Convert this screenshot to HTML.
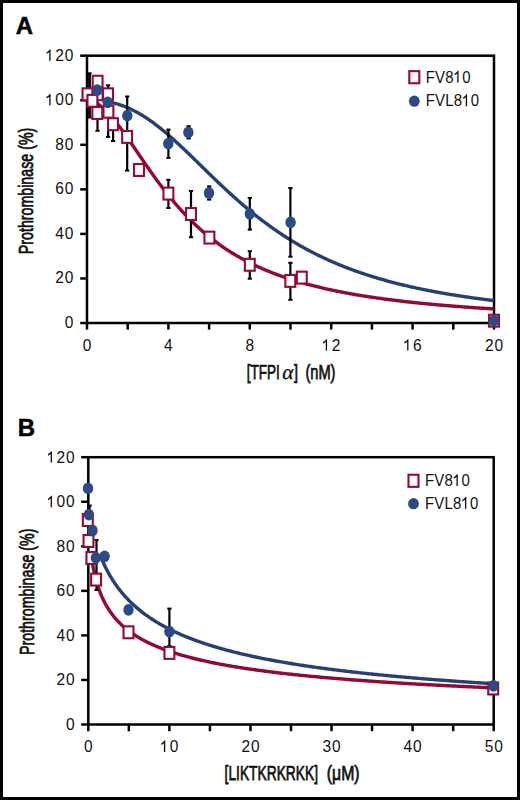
<!DOCTYPE html>
<html><head><meta charset="utf-8"><style>
html,body{margin:0;padding:0;background:#fff;}
svg{display:block;}
text{font-family:"Liberation Sans",sans-serif;fill:#111;}
.tk{font-size:15.5px;letter-spacing:0.9px;}
.lg{font-size:15px;letter-spacing:0.2px;}
.pl{font-size:24px;font-weight:bold;fill:#000;stroke:#000;stroke-width:0.45px;}
.ax{font-size:20px;stroke:#111;stroke-width:0.75px;}
</style></head><body>
<svg width="520" height="800" viewBox="0 0 520 800">
<rect x="0" y="0" width="520" height="800" fill="#fff"/>
<rect x="1.5" y="1.5" width="517" height="797" fill="none" stroke="#000" stroke-width="3"/>
<text x="15.8" y="33.9" class="pl">A</text>
<text x="17.8" y="435.7" class="pl">B</text>
<text transform="translate(33.2,254.2) rotate(-90)" class="ax" textLength="126.5" lengthAdjust="spacingAndGlyphs">Prothrombinase (%)</text>
<text transform="translate(33.9,655) rotate(-90)" class="ax" textLength="126.5" lengthAdjust="spacingAndGlyphs">Prothrombinase (%)</text>
<text x="246.8" y="378.8" class="ax" textLength="33" lengthAdjust="spacingAndGlyphs">[TFPI</text>
<text transform="translate(281.6,378.8) skewX(-9)" style="font-family:'Liberation Serif',serif;font-size:21px;stroke:#111;stroke-width:0.3px;fill:#111">&#945;</text>
<text transform="translate(293.9,378.8) scale(0.72,1)" class="ax">]</text>
<text x="305.4" y="378.8" class="ax" textLength="30.1" lengthAdjust="spacingAndGlyphs">(nM)</text>
<text x="224.6" y="780.2" class="ax" textLength="93.4" lengthAdjust="spacingAndGlyphs">[LIKTKRKRKK]</text>
<text x="326.8" y="780.2" class="ax" textLength="32.8" lengthAdjust="spacingAndGlyphs">(&#956;M)</text>
<rect x="87" y="55.7" width="407" height="267.3" fill="none" stroke="#000" stroke-width="2.5"/>
<line x1="80.2" y1="323" x2="87" y2="323" stroke="#000" stroke-width="2.5"/>
<line x1="80.2" y1="278.45" x2="87" y2="278.45" stroke="#000" stroke-width="2.5"/>
<line x1="80.2" y1="233.9" x2="87" y2="233.9" stroke="#000" stroke-width="2.5"/>
<line x1="80.2" y1="189.35" x2="87" y2="189.35" stroke="#000" stroke-width="2.5"/>
<line x1="80.2" y1="144.8" x2="87" y2="144.8" stroke="#000" stroke-width="2.5"/>
<line x1="80.2" y1="100.25" x2="87" y2="100.25" stroke="#000" stroke-width="2.5"/>
<line x1="80.2" y1="55.7" x2="87" y2="55.7" stroke="#000" stroke-width="2.5"/>
<line x1="87" y1="323" x2="87" y2="329.6" stroke="#000" stroke-width="2.5"/>
<line x1="127.7" y1="323" x2="127.7" y2="329.6" stroke="#000" stroke-width="2.5"/>
<line x1="168.4" y1="323" x2="168.4" y2="329.6" stroke="#000" stroke-width="2.5"/>
<line x1="209.1" y1="323" x2="209.1" y2="329.6" stroke="#000" stroke-width="2.5"/>
<line x1="249.8" y1="323" x2="249.8" y2="329.6" stroke="#000" stroke-width="2.5"/>
<line x1="290.5" y1="323" x2="290.5" y2="329.6" stroke="#000" stroke-width="2.5"/>
<line x1="331.2" y1="323" x2="331.2" y2="329.6" stroke="#000" stroke-width="2.5"/>
<line x1="371.9" y1="323" x2="371.9" y2="329.6" stroke="#000" stroke-width="2.5"/>
<line x1="412.6" y1="323" x2="412.6" y2="329.6" stroke="#000" stroke-width="2.5"/>
<line x1="453.3" y1="323" x2="453.3" y2="329.6" stroke="#000" stroke-width="2.5"/>
<line x1="494" y1="323" x2="494" y2="329.6" stroke="#000" stroke-width="2.5"/>
<text id="t0" transform="translate(74.2,328) scale(1,1.06)" text-anchor="end" class="tk">0</text>
<text id="t1" transform="translate(74.2,283.45) scale(1,1.06)" text-anchor="end" class="tk">20</text>
<text id="t2" transform="translate(74.2,238.9) scale(1,1.06)" text-anchor="end" class="tk">40</text>
<text id="t3" transform="translate(74.2,194.35) scale(1,1.06)" text-anchor="end" class="tk">60</text>
<text id="t4" transform="translate(74.2,149.8) scale(1,1.06)" text-anchor="end" class="tk">80</text>
<text id="t5" transform="translate(74.2,105.25) scale(1,1.06)" text-anchor="end" class="tk"> 00</text>
<path transform="translate(74.2,105.25) scale(1,1.06) translate(-28.57,0) scale(0.007568,-0.007568)" d="M640,0L490,0L490,1098Q425,1038 319,979Q213,920 129,890L129,1057Q280,1124 393,1221Q506,1318 553,1409L640,1409Z" fill="#000" stroke="#000" stroke-width="15.9"/>
<text id="t6" transform="translate(74.2,60.7) scale(1,1.06)" text-anchor="end" class="tk"> 20</text>
<path transform="translate(74.2,60.7) scale(1,1.06) translate(-28.57,0) scale(0.007568,-0.007568)" d="M640,0L490,0L490,1098Q425,1038 319,979Q213,920 129,890L129,1057Q280,1124 393,1221Q506,1318 553,1409L640,1409Z" fill="#000" stroke="#000" stroke-width="15.9"/>
<text id="t7" transform="translate(87.45,350.5) scale(1,1.06)" text-anchor="middle" class="tk">0</text>
<text id="t8" transform="translate(168.85,350.5) scale(1,1.06)" text-anchor="middle" class="tk">4</text>
<text id="t9" transform="translate(250.25,350.5) scale(1,1.06)" text-anchor="middle" class="tk">8</text>
<text id="t10" transform="translate(331.65,350.5) scale(1,1.06)" text-anchor="middle" class="tk"> 2</text>
<path transform="translate(331.65,350.5) scale(1,1.06) translate(-9.52,0) scale(0.007568,-0.007568)" d="M640,0L490,0L490,1098Q425,1038 319,979Q213,920 129,890L129,1057Q280,1124 393,1221Q506,1318 553,1409L640,1409Z" fill="#000" stroke="#000" stroke-width="15.9"/>
<text id="t11" transform="translate(413.05,350.5) scale(1,1.06)" text-anchor="middle" class="tk"> 6</text>
<path transform="translate(413.05,350.5) scale(1,1.06) translate(-9.52,0) scale(0.007568,-0.007568)" d="M640,0L490,0L490,1098Q425,1038 319,979Q213,920 129,890L129,1057Q280,1124 393,1221Q506,1318 553,1409L640,1409Z" fill="#000" stroke="#000" stroke-width="15.9"/>
<text id="t12" transform="translate(494.45,350.5) scale(1,1.06)" text-anchor="middle" class="tk">20</text>
<polyline points="87,100.25 88.02,100.3 89.03,100.42 90.05,100.62 91.07,100.88 92.09,101.2 93.11,101.58 94.12,102.02 95.14,102.51 96.16,103.06 97.17,103.66 98.19,104.31 99.21,105.01 100.23,105.75 101.25,106.54 102.26,107.38 103.28,108.25 104.3,109.17 105.31,110.13 106.33,111.12 107.35,112.15 108.37,113.22 109.39,114.31 110.4,115.44 111.42,116.6 112.44,117.79 113.45,119.01 114.47,120.25 115.49,121.51 116.51,122.8 117.53,124.11 118.54,125.45 119.56,126.8 120.58,128.16 121.59,129.55 122.61,130.95 123.63,132.36 124.65,133.79 125.66,135.22 126.68,136.67 127.7,138.13 128.72,139.6 129.74,141.07 130.75,142.55 131.77,144.03 132.79,145.52 133.81,147.01 134.82,148.51 135.84,150.01 136.86,151.5 137.88,153 138.89,154.5 139.91,155.99 140.93,157.49 141.94,158.98 142.96,160.47 143.98,161.95 145,163.43 146.01,164.9 147.03,166.37 148.05,167.84 149.07,169.29 150.09,170.74 151.1,172.18 152.12,173.62 153.14,175.04 154.16,176.46 155.17,177.87 156.19,179.27 157.21,180.66 158.22,182.04 159.24,183.41 160.26,184.77 161.28,186.12 162.3,187.46 163.31,188.79 164.33,190.1 165.35,191.41 166.37,192.7 167.38,193.99 168.4,195.26 169.42,196.52 170.44,197.77 171.45,199.01 172.47,200.24 173.49,201.45 174.5,202.65 175.52,203.84 176.54,205.02 177.56,206.19 178.57,207.34 179.59,208.49 180.61,209.62 181.63,210.74 182.64,211.85 183.66,212.94 184.68,214.03 185.7,215.1 186.72,216.16 187.73,217.21 188.75,218.25 189.77,219.27 190.78,220.29 191.8,221.29 192.82,222.28 193.84,223.27 194.86,224.24 195.87,225.19 196.89,226.14 197.91,227.08 198.93,228.01 199.94,228.92 200.96,229.83 201.98,230.72 202.99,231.61 204.01,232.48 205.03,233.35 206.05,234.2 207.06,235.04 208.08,235.88 209.1,236.7 210.12,237.52 211.13,238.32 212.15,239.12 213.17,239.9 214.19,240.68 215.2,241.45 216.22,242.21 217.24,242.96 218.26,243.7 219.28,244.43 220.29,245.15 221.31,245.87 222.33,246.57 223.34,247.27 224.36,247.96 225.38,248.64 226.4,249.32 227.41,249.98 228.43,250.64 229.45,251.29 230.47,251.93 231.48,252.57 232.5,253.19 233.52,253.81 234.54,254.42 235.56,255.03 236.57,255.63 237.59,256.22 238.61,256.8 239.62,257.38 240.64,257.95 241.66,258.52 242.68,259.07 243.69,259.62 244.71,260.17 245.73,260.71 246.75,261.24 247.77,261.76 248.78,262.28 249.8,262.8 250.82,263.31 251.84,263.81 252.85,264.3 253.87,264.79 254.89,265.28 255.9,265.76 256.92,266.23 257.94,266.7 258.96,267.16 259.98,267.62 260.99,268.07 262.01,268.52 263.03,268.96 264.04,269.4 265.06,269.83 266.08,270.26 267.1,270.69 268.12,271.1 269.13,271.52 270.15,271.93 271.17,272.33 272.19,272.73 273.2,273.13 274.22,273.52 275.24,273.9 276.25,274.29 277.27,274.67 278.29,275.04 279.31,275.41 280.32,275.78 281.34,276.14 282.36,276.5 283.38,276.85 284.39,277.2 285.41,277.55 286.43,277.89 287.45,278.23 288.47,278.57 289.48,278.9 290.5,279.23 291.52,279.55 292.53,279.88 293.55,280.2 294.57,280.51 295.59,280.82 296.61,281.13 297.62,281.44 298.64,281.74 299.66,282.04 300.68,282.33 301.69,282.63 302.71,282.92 303.73,283.2 304.75,283.49 305.76,283.77 306.78,284.05 307.8,284.32 308.81,284.59 309.83,284.86 310.85,285.13 311.87,285.4 312.89,285.66 313.9,285.92 314.92,286.17 315.94,286.43 316.95,286.68 317.97,286.93 318.99,287.17 320.01,287.42 321.02,287.66 322.04,287.9 323.06,288.14 324.08,288.37 325.09,288.6 326.11,288.83 327.13,289.06 328.15,289.29 329.16,289.51 330.18,289.73 331.2,289.95 332.22,290.17 333.24,290.38 334.25,290.6 335.27,290.81 336.29,291.01 337.31,291.22 338.32,291.43 339.34,291.63 340.36,291.83 341.38,292.03 342.39,292.23 343.41,292.42 344.43,292.62 345.44,292.81 346.46,293 347.48,293.19 348.5,293.37 349.51,293.56 350.53,293.74 351.55,293.92 352.57,294.1 353.59,294.28 354.6,294.46 355.62,294.64 356.64,294.81 357.66,294.98 358.67,295.15 359.69,295.32 360.71,295.49 361.73,295.65 362.74,295.82 363.76,295.98 364.78,296.14 365.8,296.3 366.81,296.46 367.83,296.62 368.85,296.78 369.86,296.93 370.88,297.08 371.9,297.24 372.92,297.39 373.94,297.54 374.95,297.68 375.97,297.83 376.99,297.98 378,298.12 379.02,298.26 380.04,298.41 381.06,298.55 382.07,298.69 383.09,298.82 384.11,298.96 385.13,299.1 386.14,299.23 387.16,299.37 388.18,299.5 389.2,299.63 390.22,299.76 391.23,299.89 392.25,300.02 393.27,300.15 394.28,300.27 395.3,300.4 396.32,300.52 397.34,300.64 398.36,300.77 399.37,300.89 400.39,301.01 401.41,301.13 402.43,301.25 403.44,301.36 404.46,301.48 405.48,301.59 406.5,301.71 407.51,301.82 408.53,301.94 409.55,302.05 410.56,302.16 411.58,302.27 412.6,302.38 413.62,302.49 414.64,302.59 415.65,302.7 416.67,302.81 417.69,302.91 418.7,303.01 419.72,303.12 420.74,303.22 421.76,303.32 422.77,303.42 423.79,303.52 424.81,303.62 425.83,303.72 426.84,303.82 427.86,303.92 428.88,304.01 429.9,304.11 430.91,304.2 431.93,304.3 432.95,304.39 433.97,304.49 434.99,304.58 436,304.67 437.02,304.76 438.04,304.85 439.06,304.94 440.07,305.03 441.09,305.12 442.11,305.2 443.12,305.29 444.14,305.38 445.16,305.46 446.18,305.55 447.19,305.63 448.21,305.72 449.23,305.8 450.25,305.88 451.26,305.97 452.28,306.05 453.3,306.13 454.32,306.21 455.34,306.29 456.35,306.37 457.37,306.45 458.39,306.52 459.41,306.6 460.42,306.68 461.44,306.75 462.46,306.83 463.48,306.91 464.49,306.98 465.51,307.05 466.53,307.13 467.55,307.2 468.56,307.27 469.58,307.35 470.6,307.42 471.61,307.49 472.63,307.56 473.65,307.63 474.67,307.7 475.68,307.77 476.7,307.84 477.72,307.91 478.74,307.97 479.75,308.04 480.77,308.11 481.79,308.18 482.81,308.24 483.82,308.31 484.84,308.37 485.86,308.44 486.88,308.5 487.89,308.57 488.91,308.63 489.93,308.69 490.95,308.75 491.96,308.82 492.98,308.88 494,308.94" fill="none" stroke="#930834" stroke-width="3.4" stroke-linejoin="round"/>
<polyline points="107.35,101.7 108.32,101.87 109.28,102.05 110.25,102.24 111.22,102.44 112.18,102.66 113.15,102.89 114.12,103.12 115.08,103.37 116.05,103.63 117.02,103.91 117.98,104.19 118.95,104.49 119.92,104.8 120.88,105.12 121.85,105.45 122.82,105.8 123.78,106.16 124.75,106.53 125.72,106.91 126.68,107.31 127.65,107.71 128.62,108.13 129.58,108.56 130.55,109.01 131.52,109.46 132.48,109.93 133.45,110.41 134.42,110.91 135.38,111.41 136.35,111.93 137.32,112.45 138.28,112.99 139.25,113.55 140.22,114.11 141.18,114.68 142.15,115.27 143.12,115.87 144.08,116.48 145.05,117.1 146.02,117.73 146.98,118.37 147.95,119.02 148.91,119.68 149.88,120.35 150.85,121.04 151.81,121.73 152.78,122.43 153.75,123.14 154.71,123.86 155.68,124.6 156.65,125.34 157.61,126.08 158.58,126.84 159.55,127.61 160.51,128.38 161.48,129.17 162.45,129.96 163.41,130.76 164.38,131.56 165.35,132.38 166.31,133.2 167.28,134.03 168.25,134.86 169.21,135.7 170.18,136.55 171.15,137.4 172.11,138.26 173.08,139.13 174.05,140 175.01,140.88 175.98,141.76 176.95,142.65 177.91,143.54 178.88,144.43 179.85,145.33 180.81,146.24 181.78,147.15 182.75,148.06 183.71,148.97 184.68,149.89 185.65,150.81 186.61,151.74 187.58,152.66 188.55,153.59 189.51,154.53 190.48,155.46 191.45,156.4 192.41,157.33 193.38,158.27 194.35,159.21 195.31,160.15 196.28,161.1 197.25,162.04 198.21,162.98 199.18,163.93 200.15,164.87 201.11,165.82 202.08,166.76 203.05,167.7 204.01,168.65 204.98,169.59 205.95,170.53 206.91,171.48 207.88,172.42 208.85,173.36 209.81,174.29 210.78,175.23 211.75,176.17 212.71,177.1 213.68,178.03 214.65,178.96 215.61,179.89 216.58,180.82 217.55,181.74 218.51,182.66 219.48,183.58 220.45,184.49 221.41,185.41 222.38,186.32 223.34,187.22 224.31,188.13 225.28,189.03 226.24,189.93 227.21,190.82 228.18,191.71 229.14,192.6 230.11,193.49 231.08,194.37 232.04,195.24 233.01,196.12 233.98,196.99 234.94,197.85 235.91,198.71 236.88,199.57 237.84,200.42 238.81,201.27 239.78,202.12 240.74,202.96 241.71,203.8 242.68,204.63 243.64,205.46 244.61,206.28 245.58,207.1 246.54,207.91 247.51,208.72 248.48,209.53 249.44,210.33 250.41,211.12 251.38,211.92 252.34,212.7 253.31,213.49 254.28,214.26 255.24,215.04 256.21,215.8 257.18,216.57 258.14,217.32 259.11,218.08 260.08,218.83 261.04,219.57 262.01,220.31 262.98,221.04 263.94,221.77 264.91,222.5 265.88,223.22 266.84,223.93 267.81,224.64 268.78,225.35 269.74,226.05 270.71,226.75 271.68,227.44 272.64,228.12 273.61,228.8 274.58,229.48 275.54,230.15 276.51,230.82 277.48,231.48 278.44,232.14 279.41,232.79 280.38,233.44 281.34,234.08 282.31,234.72 283.28,235.35 284.24,235.98 285.21,236.6 286.18,237.22 287.14,237.84 288.11,238.45 289.08,239.05 290.04,239.65 291.01,240.25 291.98,240.84 292.94,241.43 293.91,242.01 294.88,242.59 295.84,243.16 296.81,243.73 297.78,244.3 298.74,244.86 299.71,245.41 300.68,245.96 301.64,246.51 302.61,247.05 303.57,247.59 304.54,248.13 305.51,248.66 306.47,249.18 307.44,249.7 308.41,250.22 309.37,250.74 310.34,251.24 311.31,251.75 312.27,252.25 313.24,252.75 314.21,253.24 315.17,253.73 316.14,254.22 317.11,254.7 318.07,255.18 319.04,255.65 320.01,256.12 320.97,256.58 321.94,257.05 322.91,257.51 323.87,257.96 324.84,258.41 325.81,258.86 326.77,259.3 327.74,259.74 328.71,260.18 329.67,260.61 330.64,261.04 331.61,261.47 332.57,261.89 333.54,262.31 334.51,262.72 335.47,263.14 336.44,263.54 337.41,263.95 338.37,264.35 339.34,264.75 340.31,265.15 341.27,265.54 342.24,265.93 343.21,266.31 344.17,266.7 345.14,267.08 346.11,267.45 347.07,267.83 348.04,268.2 349.01,268.56 349.97,268.93 350.94,269.29 351.91,269.65 352.87,270 353.84,270.35 354.81,270.7 355.77,271.05 356.74,271.39 357.71,271.74 358.67,272.07 359.64,272.41 360.61,272.74 361.57,273.07 362.54,273.4 363.51,273.72 364.47,274.05 365.44,274.37 366.41,274.68 367.37,275 368.34,275.31 369.31,275.62 370.27,275.92 371.24,276.23 372.21,276.53 373.17,276.83 374.14,277.13 375.11,277.42 376.07,277.71 377.04,278 378,278.29 378.97,278.57 379.94,278.86 380.9,279.14 381.87,279.41 382.84,279.69 383.8,279.96 384.77,280.24 385.74,280.5 386.7,280.77 387.67,281.04 388.64,281.3 389.6,281.56 390.57,281.82 391.54,282.08 392.5,282.33 393.47,282.58 394.44,282.83 395.4,283.08 396.37,283.33 397.34,283.57 398.3,283.81 399.27,284.06 400.24,284.29 401.2,284.53 402.17,284.77 403.14,285 404.1,285.23 405.07,285.46 406.04,285.69 407,285.91 407.97,286.14 408.94,286.36 409.9,286.58 410.87,286.8 411.84,287.02 412.8,287.23 413.77,287.45 414.74,287.66 415.7,287.87 416.67,288.08 417.64,288.29 418.6,288.49 419.57,288.7 420.54,288.9 421.5,289.1 422.47,289.3 423.44,289.5 424.4,289.69 425.37,289.89 426.34,290.08 427.3,290.27 428.27,290.46 429.24,290.65 430.2,290.84 431.17,291.03 432.14,291.21 433.1,291.39 434.07,291.57 435.04,291.76 436,291.93 436.97,292.11 437.94,292.29 438.9,292.46 439.87,292.64 440.84,292.81 441.8,292.98 442.77,293.15 443.74,293.32 444.7,293.49 445.67,293.65 446.64,293.82 447.6,293.98 448.57,294.14 449.54,294.31 450.5,294.47 451.47,294.62 452.44,294.78 453.4,294.94 454.37,295.09 455.34,295.25 456.3,295.4 457.27,295.55 458.23,295.7 459.2,295.85 460.17,296 461.13,296.15 462.1,296.3 463.07,296.44 464.03,296.59 465,296.73 465.97,296.87 466.93,297.01 467.9,297.15 468.87,297.29 469.83,297.43 470.8,297.57 471.77,297.7 472.73,297.84 473.7,297.97 474.67,298.11 475.63,298.24 476.6,298.37 477.57,298.5 478.53,298.63 479.5,298.76 480.47,298.89 481.43,299.01 482.4,299.14 483.37,299.27 484.33,299.39 485.3,299.51 486.27,299.64 487.23,299.76 488.2,299.88 489.17,300 490.13,300.12 491.1,300.24 492.07,300.35 493.03,300.47 494,300.58" fill="none" stroke="#263f76" stroke-width="3.4" stroke-linejoin="round"/>
<line x1="89.5" y1="73.3" x2="89.5" y2="117.5" stroke="#000" stroke-width="2.8"/>
<line x1="87.4" y1="73.3" x2="91.6" y2="73.3" stroke="#000" stroke-width="2"/>
<line x1="87.4" y1="117.5" x2="91.6" y2="117.5" stroke="#000" stroke-width="2"/>
<line x1="97.5" y1="78" x2="97.5" y2="130.8" stroke="#000" stroke-width="2.2"/>
<line x1="95.4" y1="78" x2="99.6" y2="78" stroke="#000" stroke-width="2"/>
<line x1="95.4" y1="130.8" x2="99.6" y2="130.8" stroke="#000" stroke-width="2"/>
<line x1="108.1" y1="85.3" x2="108.1" y2="136.9" stroke="#000" stroke-width="2.2"/>
<line x1="106" y1="85.3" x2="110.2" y2="85.3" stroke="#000" stroke-width="2"/>
<line x1="106" y1="136.9" x2="110.2" y2="136.9" stroke="#000" stroke-width="2"/>
<line x1="113.1" y1="118" x2="113.1" y2="141" stroke="#000" stroke-width="2.2"/>
<line x1="111" y1="118" x2="115.2" y2="118" stroke="#000" stroke-width="2"/>
<line x1="111" y1="141" x2="115.2" y2="141" stroke="#000" stroke-width="2"/>
<line x1="127.2" y1="96.5" x2="127.2" y2="170.6" stroke="#000" stroke-width="2.2"/>
<line x1="125.1" y1="96.5" x2="129.3" y2="96.5" stroke="#000" stroke-width="2"/>
<line x1="125.1" y1="170.6" x2="129.3" y2="170.6" stroke="#000" stroke-width="2"/>
<line x1="168.4" y1="129.6" x2="168.4" y2="157.9" stroke="#000" stroke-width="2.2"/>
<line x1="166.3" y1="129.6" x2="170.5" y2="129.6" stroke="#000" stroke-width="2"/>
<line x1="166.3" y1="157.9" x2="170.5" y2="157.9" stroke="#000" stroke-width="2"/>
<line x1="188.6" y1="126.2" x2="188.6" y2="138.4" stroke="#000" stroke-width="2.2"/>
<line x1="186.5" y1="126.2" x2="190.7" y2="126.2" stroke="#000" stroke-width="2"/>
<line x1="186.5" y1="138.4" x2="190.7" y2="138.4" stroke="#000" stroke-width="2"/>
<line x1="209.2" y1="186.4" x2="209.2" y2="199.6" stroke="#000" stroke-width="2.2"/>
<line x1="207.1" y1="186.4" x2="211.3" y2="186.4" stroke="#000" stroke-width="2"/>
<line x1="207.1" y1="199.6" x2="211.3" y2="199.6" stroke="#000" stroke-width="2"/>
<line x1="249.8" y1="197.9" x2="249.8" y2="229.6" stroke="#000" stroke-width="2.2"/>
<line x1="247.7" y1="197.9" x2="251.9" y2="197.9" stroke="#000" stroke-width="2"/>
<line x1="247.7" y1="229.6" x2="251.9" y2="229.6" stroke="#000" stroke-width="2"/>
<line x1="290.4" y1="188" x2="290.4" y2="256.7" stroke="#000" stroke-width="2.2"/>
<line x1="288.3" y1="188" x2="292.5" y2="188" stroke="#000" stroke-width="2"/>
<line x1="288.3" y1="256.7" x2="292.5" y2="256.7" stroke="#000" stroke-width="2"/>
<line x1="168.4" y1="179.8" x2="168.4" y2="208" stroke="#000" stroke-width="2.2"/>
<line x1="166.3" y1="179.8" x2="170.5" y2="179.8" stroke="#000" stroke-width="2"/>
<line x1="166.3" y1="208" x2="170.5" y2="208" stroke="#000" stroke-width="2"/>
<line x1="191" y1="191" x2="191" y2="237.2" stroke="#000" stroke-width="2.2"/>
<line x1="188.9" y1="191" x2="193.1" y2="191" stroke="#000" stroke-width="2"/>
<line x1="188.9" y1="237.2" x2="193.1" y2="237.2" stroke="#000" stroke-width="2"/>
<line x1="249.8" y1="251.2" x2="249.8" y2="278.7" stroke="#000" stroke-width="2.2"/>
<line x1="247.7" y1="251.2" x2="251.9" y2="251.2" stroke="#000" stroke-width="2"/>
<line x1="247.7" y1="278.7" x2="251.9" y2="278.7" stroke="#000" stroke-width="2"/>
<line x1="290.4" y1="262.8" x2="290.4" y2="299.8" stroke="#000" stroke-width="2.2"/>
<line x1="288.3" y1="262.8" x2="292.5" y2="262.8" stroke="#000" stroke-width="2"/>
<line x1="288.3" y1="299.8" x2="292.5" y2="299.8" stroke="#000" stroke-width="2"/>
<rect x="82.55" y="88.35" width="9.9" height="11.9" fill="#fff" stroke="#960a34" stroke-width="2.1"/>
<rect x="92.75" y="88.25" width="9.9" height="11.9" fill="#fff" stroke="#960a34" stroke-width="2.1"/>
<rect x="92.65" y="75.75" width="9.9" height="11.9" fill="#fff" stroke="#960a34" stroke-width="2.1"/>
<rect x="103.05" y="88.35" width="9.9" height="11.9" fill="#fff" stroke="#960a34" stroke-width="2.1"/>
<rect x="87.45" y="94.85" width="9.9" height="11.9" fill="#fff" stroke="#960a34" stroke-width="2.1"/>
<rect x="92.35" y="107.05" width="9.9" height="11.9" fill="#fff" stroke="#960a34" stroke-width="2.1"/>
<rect x="103.45" y="105.75" width="9.9" height="11.9" fill="#fff" stroke="#960a34" stroke-width="2.1"/>
<rect x="108.05" y="118.25" width="9.9" height="11.9" fill="#fff" stroke="#960a34" stroke-width="2.1"/>
<rect x="122.15" y="130.95" width="9.9" height="11.9" fill="#fff" stroke="#960a34" stroke-width="2.1"/>
<rect x="134.05" y="164.05" width="9.9" height="11.9" fill="#fff" stroke="#960a34" stroke-width="2.1"/>
<rect x="163.45" y="187.65" width="9.9" height="11.9" fill="#fff" stroke="#960a34" stroke-width="2.1"/>
<rect x="186.05" y="208.05" width="9.9" height="11.9" fill="#fff" stroke="#960a34" stroke-width="2.1"/>
<rect x="204.45" y="231.65" width="9.9" height="11.9" fill="#fff" stroke="#960a34" stroke-width="2.1"/>
<rect x="244.85" y="258.85" width="9.9" height="11.9" fill="#fff" stroke="#960a34" stroke-width="2.1"/>
<rect x="285.35" y="274.95" width="9.9" height="11.9" fill="#fff" stroke="#960a34" stroke-width="2.1"/>
<rect x="296.85" y="271.65" width="9.9" height="11.9" fill="#fff" stroke="#960a34" stroke-width="2.1"/>
<rect x="489.05" y="314.75" width="9.9" height="11.9" fill="#fff" stroke="#960a34" stroke-width="2.1"/>
<ellipse cx="97.3" cy="90.2" rx="5.2" ry="5.9" fill="#2c4a85"/>
<ellipse cx="107.7" cy="102.3" rx="5.2" ry="5.9" fill="#2c4a85"/>
<ellipse cx="127.3" cy="115.6" rx="5.2" ry="5.9" fill="#2c4a85"/>
<ellipse cx="168.3" cy="143.7" rx="5.2" ry="5.9" fill="#2c4a85"/>
<ellipse cx="188.4" cy="132.4" rx="5.2" ry="5.9" fill="#2c4a85"/>
<ellipse cx="209" cy="193" rx="5.2" ry="5.9" fill="#2c4a85"/>
<ellipse cx="249.8" cy="213.8" rx="5.2" ry="5.9" fill="#2c4a85"/>
<ellipse cx="290.6" cy="222.3" rx="5.2" ry="5.9" fill="#2c4a85"/>
<ellipse cx="494" cy="320.7" rx="5.2" ry="5.9" fill="#2c4a85"/>
<rect x="409.3" y="71.15" width="10" height="12.1" fill="#fff" stroke="#960a34" stroke-width="2.1"/>
<ellipse cx="414.3" cy="101.2" rx="5.4" ry="5.6000000000000005" fill="#2c4a85"/>
<text id="t13" transform="translate(425.7,82.5) scale(1,1.15)" class="lg">FV8 0</text>
<path transform="translate(425.7,82.5) scale(1,1.15) translate(28.09,0) scale(0.007324,-0.007324)" d="M640,0L490,0L490,1098Q425,1038 319,979Q213,920 129,890L129,1057Q280,1124 393,1221Q506,1318 553,1409L640,1409Z" fill="#000" stroke="#000" stroke-width="16.4"/>
<text id="t14" transform="translate(425.7,106.2) scale(1,1.15)" class="lg">FVL8 0</text>
<path transform="translate(425.7,106.2) scale(1,1.15) translate(36.63,0) scale(0.007324,-0.007324)" d="M640,0L490,0L490,1098Q425,1038 319,979Q213,920 129,890L129,1057Q280,1124 393,1221Q506,1318 553,1409L640,1409Z" fill="#000" stroke="#000" stroke-width="16.4"/>
<rect x="88.3" y="457.2" width="405.4" height="267.3" fill="none" stroke="#000" stroke-width="2.5"/>
<line x1="81.2" y1="724.5" x2="88.3" y2="724.5" stroke="#000" stroke-width="2.5"/>
<line x1="81.2" y1="679.95" x2="88.3" y2="679.95" stroke="#000" stroke-width="2.5"/>
<line x1="81.2" y1="635.4" x2="88.3" y2="635.4" stroke="#000" stroke-width="2.5"/>
<line x1="81.2" y1="590.85" x2="88.3" y2="590.85" stroke="#000" stroke-width="2.5"/>
<line x1="81.2" y1="546.3" x2="88.3" y2="546.3" stroke="#000" stroke-width="2.5"/>
<line x1="81.2" y1="501.75" x2="88.3" y2="501.75" stroke="#000" stroke-width="2.5"/>
<line x1="81.2" y1="457.2" x2="88.3" y2="457.2" stroke="#000" stroke-width="2.5"/>
<line x1="88.3" y1="724.5" x2="88.3" y2="731.2" stroke="#000" stroke-width="2.5"/>
<line x1="128.84" y1="724.5" x2="128.84" y2="731.2" stroke="#000" stroke-width="2.5"/>
<line x1="169.38" y1="724.5" x2="169.38" y2="731.2" stroke="#000" stroke-width="2.5"/>
<line x1="209.92" y1="724.5" x2="209.92" y2="731.2" stroke="#000" stroke-width="2.5"/>
<line x1="250.46" y1="724.5" x2="250.46" y2="731.2" stroke="#000" stroke-width="2.5"/>
<line x1="291" y1="724.5" x2="291" y2="731.2" stroke="#000" stroke-width="2.5"/>
<line x1="331.54" y1="724.5" x2="331.54" y2="731.2" stroke="#000" stroke-width="2.5"/>
<line x1="372.08" y1="724.5" x2="372.08" y2="731.2" stroke="#000" stroke-width="2.5"/>
<line x1="412.62" y1="724.5" x2="412.62" y2="731.2" stroke="#000" stroke-width="2.5"/>
<line x1="453.16" y1="724.5" x2="453.16" y2="731.2" stroke="#000" stroke-width="2.5"/>
<line x1="493.7" y1="724.5" x2="493.7" y2="731.2" stroke="#000" stroke-width="2.5"/>
<text id="t15" transform="translate(75.6,729.9) scale(1,1.06)" text-anchor="end" class="tk">0</text>
<text id="t16" transform="translate(75.6,685.35) scale(1,1.06)" text-anchor="end" class="tk">20</text>
<text id="t17" transform="translate(75.6,640.8) scale(1,1.06)" text-anchor="end" class="tk">40</text>
<text id="t18" transform="translate(75.6,596.25) scale(1,1.06)" text-anchor="end" class="tk">60</text>
<text id="t19" transform="translate(75.6,551.7) scale(1,1.06)" text-anchor="end" class="tk">80</text>
<text id="t20" transform="translate(75.6,507.15) scale(1,1.06)" text-anchor="end" class="tk"> 00</text>
<path transform="translate(75.6,507.15) scale(1,1.06) translate(-28.57,0) scale(0.007568,-0.007568)" d="M640,0L490,0L490,1098Q425,1038 319,979Q213,920 129,890L129,1057Q280,1124 393,1221Q506,1318 553,1409L640,1409Z" fill="#000" stroke="#000" stroke-width="15.9"/>
<text id="t21" transform="translate(75.6,462.6) scale(1,1.06)" text-anchor="end" class="tk"> 20</text>
<path transform="translate(75.6,462.6) scale(1,1.06) translate(-28.57,0) scale(0.007568,-0.007568)" d="M640,0L490,0L490,1098Q425,1038 319,979Q213,920 129,890L129,1057Q280,1124 393,1221Q506,1318 553,1409L640,1409Z" fill="#000" stroke="#000" stroke-width="15.9"/>
<text id="t22" transform="translate(88.75,751.9) scale(1,1.06)" text-anchor="middle" class="tk">0</text>
<text id="t23" transform="translate(169.83,751.9) scale(1,1.06)" text-anchor="middle" class="tk"> 0</text>
<path transform="translate(169.83,751.9) scale(1,1.06) translate(-9.52,0) scale(0.007568,-0.007568)" d="M640,0L490,0L490,1098Q425,1038 319,979Q213,920 129,890L129,1057Q280,1124 393,1221Q506,1318 553,1409L640,1409Z" fill="#000" stroke="#000" stroke-width="15.9"/>
<text id="t24" transform="translate(250.91,751.9) scale(1,1.06)" text-anchor="middle" class="tk">20</text>
<text id="t25" transform="translate(331.99,751.9) scale(1,1.06)" text-anchor="middle" class="tk">30</text>
<text id="t26" transform="translate(413.07,751.9) scale(1,1.06)" text-anchor="middle" class="tk">40</text>
<text id="t27" transform="translate(494.15,751.9) scale(1,1.06)" text-anchor="middle" class="tk">50</text>
<polyline points="91.54,557.07 91.55,557.09 91.55,557.14 91.57,557.23 91.58,557.36 91.61,557.52 91.63,557.72 91.67,557.95 91.7,558.22 91.75,558.52 91.79,558.85 91.85,559.21 91.91,559.6 91.97,560.02 92.04,560.47 92.11,560.94 92.19,561.44 92.27,561.96 92.36,562.51 92.45,563.08 92.55,563.67 92.65,564.27 92.76,564.9 92.87,565.54 92.99,566.2 93.11,566.88 93.24,567.57 93.38,568.27 93.51,568.98 93.66,569.7 93.81,570.43 93.96,571.17 94.12,571.92 94.28,572.68 94.45,573.44 94.62,574.21 94.8,574.98 94.98,575.76 95.17,576.54 95.37,577.32 95.56,578.1 95.77,578.89 95.98,579.68 96.19,580.47 96.41,581.26 96.63,582.05 96.86,582.83 97.1,583.62 97.33,584.41 97.58,585.19 97.83,585.98 98.08,586.76 98.34,587.54 98.6,588.31 98.87,589.09 99.15,589.86 99.43,590.62 99.71,591.39 100,592.15 100.29,592.9 100.59,593.65 100.9,594.4 101.21,595.14 101.52,595.88 101.84,596.62 102.16,597.35 102.49,598.07 102.83,598.8 103.17,599.51 103.51,600.22 103.86,600.93 104.21,601.63 104.57,602.33 104.94,603.02 105.31,603.71 105.68,604.39 106.06,605.07 106.45,605.74 106.84,606.41 107.23,607.07 107.63,607.72 108.03,608.38 108.44,609.02 108.86,609.66 109.28,610.3 109.7,610.93 110.13,611.56 110.57,612.18 111.01,612.8 111.45,613.41 111.9,614.01 112.36,614.62 112.82,615.21 113.28,615.8 113.75,616.39 114.23,616.97 114.71,617.55 115.19,618.12 115.68,618.69 116.18,619.26 116.68,619.81 117.18,620.37 117.69,620.92 118.21,621.46 118.73,622 119.25,622.54 119.78,623.07 120.32,623.6 120.86,624.12 121.41,624.64 121.96,625.15 122.51,625.66 123.07,626.17 123.64,626.67 124.21,627.17 124.78,627.66 125.36,628.15 125.95,628.63 126.54,629.11 127.14,629.59 127.74,630.06 128.34,630.53 128.95,631 129.57,631.46 130.19,631.92 130.82,632.37 131.45,632.82 132.08,633.27 132.72,633.71 133.37,634.15 134.02,634.58 134.68,635.02 135.34,635.44 136,635.87 136.68,636.29 137.35,636.71 138.03,637.12 138.72,637.54 139.41,637.94 140.11,638.35 140.81,638.75 141.51,639.15 142.23,639.54 142.94,639.94 143.66,640.33 144.39,640.71 145.12,641.09 145.86,641.47 146.6,641.85 147.34,642.23 148.1,642.6 148.85,642.96 149.61,643.33 150.38,643.69 151.15,644.05 151.93,644.41 152.71,644.76 153.5,645.11 154.29,645.46 155.09,645.81 155.89,646.15 156.7,646.49 157.51,646.83 158.32,647.17 159.15,647.5 159.97,647.83 160.8,648.16 161.64,648.48 162.48,648.81 163.33,649.13 164.18,649.45 165.04,649.76 165.9,650.08 166.77,650.39 167.64,650.7 168.52,651 169.4,651.31 170.29,651.61 171.18,651.91 172.08,652.21 172.98,652.5 173.89,652.8 174.8,653.09 175.72,653.38 176.64,653.67 177.57,653.95 178.5,654.24 179.44,654.52 180.38,654.8 181.33,655.07 182.28,655.35 183.24,655.62 184.2,655.89 185.17,656.16 186.14,656.43 187.12,656.7 188.1,656.96 189.09,657.22 190.08,657.48 191.08,657.74 192.08,658 193.09,658.25 194.1,658.5 195.12,658.76 196.14,659.01 197.17,659.25 198.21,659.5 199.24,659.75 200.29,659.99 201.33,660.23 202.39,660.47 203.45,660.71 204.51,660.94 205.58,661.18 206.65,661.41 207.73,661.64 208.81,661.87 209.9,662.1 210.99,662.33 212.09,662.56 213.2,662.78 214.3,663 215.42,663.23 216.54,663.45 217.66,663.66 218.79,663.88 219.92,664.1 221.06,664.31 222.2,664.52 223.35,664.74 224.51,664.95 225.67,665.16 226.83,665.36 228,665.57 229.17,665.77 230.35,665.98 231.53,666.18 232.72,666.38 233.92,666.58 235.12,666.78 236.32,666.98 237.53,667.17 238.74,667.37 239.96,667.56 241.19,667.76 242.41,667.95 243.65,668.14 244.89,668.33 246.13,668.51 247.38,668.7 248.64,668.89 249.89,669.07 251.16,669.25 252.43,669.44 253.7,669.62 254.98,669.8 256.27,669.98 257.56,670.16 258.85,670.33 260.15,670.51 261.45,670.68 262.76,670.86 264.08,671.03 265.4,671.2 266.72,671.37 268.05,671.54 269.39,671.71 270.73,671.88 272.07,672.05 273.42,672.21 274.78,672.38 276.14,672.54 277.5,672.7 278.87,672.87 280.25,673.03 281.63,673.19 283.01,673.35 284.4,673.51 285.79,673.66 287.19,673.82 288.6,673.98 290.01,674.13 291.43,674.28 292.85,674.44 294.27,674.59 295.7,674.74 297.14,674.89 298.58,675.04 300.02,675.19 301.47,675.34 302.93,675.49 304.39,675.63 305.85,675.78 307.32,675.92 308.8,676.07 310.28,676.21 311.76,676.35 313.25,676.5 314.75,676.64 316.25,676.78 317.76,676.92 319.27,677.06 320.78,677.19 322.3,677.33 323.83,677.47 325.36,677.6 326.9,677.74 328.44,677.87 329.98,678.01 331.53,678.14 333.09,678.27 334.65,678.4 336.22,678.54 337.79,678.67 339.36,678.8 340.94,678.92 342.53,679.05 344.12,679.18 345.72,679.31 347.32,679.43 348.92,679.56 350.53,679.68 352.15,679.81 353.77,679.93 355.4,680.05 357.03,680.18 358.67,680.3 360.31,680.42 361.95,680.54 363.6,680.66 365.26,680.78 366.92,680.9 368.59,681.02 370.26,681.14 371.94,681.25 373.62,681.37 375.31,681.48 377,681.6 378.69,681.71 380.39,681.83 382.1,681.94 383.81,682.06 385.53,682.17 387.25,682.28 388.98,682.39 390.71,682.5 392.45,682.61 394.19,682.72 395.94,682.83 397.69,682.94 399.44,683.05 401.21,683.16 402.97,683.26 404.75,683.37 406.52,683.48 408.3,683.58 410.09,683.69 411.88,683.79 413.68,683.9 415.48,684 417.29,684.1 419.1,684.21 420.92,684.31 422.74,684.41 424.57,684.51 426.4,684.61 428.24,684.71 430.08,684.81 431.93,684.91 433.78,685.01 435.64,685.11 437.5,685.21 439.37,685.31 441.24,685.4 443.12,685.5 445,685.6 446.89,685.69 448.78,685.79 450.68,685.88 452.58,685.98 454.49,686.07 456.4,686.16 458.32,686.26 460.24,686.35 462.17,686.44 464.1,686.53 466.04,686.63 467.98,686.72 469.93,686.81 471.89,686.9 473.84,686.99 475.81,687.08 477.77,687.17 479.75,687.26 481.73,687.34 483.71,687.43 485.7,687.52 487.69,687.61 489.69,687.69 491.69,687.78 493.7,687.87" fill="none" stroke="#930834" stroke-width="3.4" stroke-linejoin="round"/>
<polyline points="101.27,558 101.28,558.01 101.28,558.02 101.29,558.05 101.31,558.1 101.33,558.15 101.36,558.21 101.39,558.29 101.43,558.38 101.47,558.48 101.52,558.59 101.57,558.72 101.63,558.85 101.69,559 101.75,559.16 101.82,559.32 101.9,559.5 101.98,559.69 102.07,559.9 102.16,560.11 102.25,560.33 102.35,560.56 102.46,560.81 102.57,561.06 102.69,561.32 102.81,561.59 102.93,561.88 103.06,562.17 103.2,562.47 103.34,562.78 103.48,563.1 103.63,563.43 103.78,563.76 103.94,564.11 104.11,564.46 104.28,564.82 104.45,565.19 104.63,565.56 104.81,565.95 105,566.34 105.2,566.73 105.4,567.14 105.6,567.55 105.81,567.97 106.02,568.39 106.24,568.82 106.46,569.25 106.69,569.7 106.92,570.14 107.16,570.59 107.4,571.05 107.65,571.51 107.9,571.98 108.16,572.45 108.42,572.93 108.69,573.41 108.96,573.89 109.24,574.38 109.52,574.87 109.81,575.37 110.1,575.87 110.4,576.37 110.7,576.88 111.01,577.38 111.32,577.9 111.64,578.41 111.96,578.93 112.28,579.44 112.61,579.97 112.95,580.49 113.29,581.01 113.64,581.54 113.99,582.07 114.34,582.6 114.7,583.13 115.07,583.67 115.44,584.2 115.81,584.74 116.19,585.27 116.58,585.81 116.97,586.35 117.36,586.89 117.76,587.43 118.17,587.97 118.58,588.51 118.99,589.05 119.41,589.59 119.84,590.13 120.27,590.67 120.7,591.21 121.14,591.75 121.58,592.29 122.03,592.83 122.49,593.37 122.94,593.91 123.41,594.45 123.88,594.99 124.35,595.53 124.83,596.07 125.31,596.6 125.8,597.14 126.29,597.67 126.79,598.21 127.29,598.74 127.8,599.27 128.31,599.8 128.83,600.33 129.35,600.86 129.88,601.39 130.41,601.91 130.95,602.43 131.49,602.96 132.04,603.48 132.59,604 133.15,604.52 133.71,605.03 134.28,605.55 134.85,606.06 135.42,606.58 136.01,607.09 136.59,607.59 137.18,608.1 137.78,608.61 138.38,609.11 138.99,609.61 139.6,610.11 140.21,610.61 140.83,611.11 141.46,611.6 142.09,612.09 142.72,612.58 143.36,613.07 144.01,613.56 144.66,614.04 145.31,614.52 145.97,615 146.64,615.48 147.31,615.96 147.98,616.43 148.66,616.91 149.35,617.38 150.03,617.84 150.73,618.31 151.43,618.77 152.13,619.24 152.84,619.7 153.55,620.15 154.27,620.61 155,621.06 155.72,621.51 156.46,621.96 157.2,622.41 157.94,622.85 158.69,623.3 159.44,623.74 160.2,624.18 160.96,624.61 161.73,625.05 162.5,625.48 163.28,625.91 164.06,626.34 164.85,626.76 165.64,627.19 166.44,627.61 167.24,628.03 168.05,628.44 168.86,628.86 169.68,629.27 170.5,629.68 171.32,630.09 172.15,630.5 172.99,630.9 173.83,631.3 174.68,631.7 175.53,632.1 176.39,632.49 177.25,632.89 178.11,633.28 178.98,633.67 179.86,634.06 180.74,634.44 181.62,634.83 182.52,635.21 183.41,635.59 184.31,635.96 185.22,636.34 186.13,636.71 187.04,637.08 187.96,637.45 188.88,637.82 189.81,638.18 190.75,638.55 191.69,638.91 192.63,639.27 193.58,639.62 194.54,639.98 195.49,640.33 196.46,640.68 197.43,641.03 198.4,641.38 199.38,641.73 200.36,642.07 201.35,642.41 202.34,642.75 203.34,643.09 204.35,643.43 205.35,643.76 206.37,644.09 207.39,644.42 208.41,644.75 209.44,645.08 210.47,645.4 211.51,645.73 212.55,646.05 213.6,646.37 214.65,646.68 215.7,647 216.77,647.32 217.83,647.63 218.91,647.94 219.98,648.25 221.06,648.56 222.15,648.86 223.24,649.16 224.34,649.47 225.44,649.77 226.55,650.07 227.66,650.36 228.77,650.66 229.89,650.95 231.02,651.25 232.15,651.54 233.29,651.83 234.43,652.11 235.57,652.4 236.72,652.68 237.88,652.97 239.04,653.25 240.2,653.53 241.37,653.8 242.55,654.08 243.73,654.36 244.91,654.63 246.1,654.9 247.29,655.17 248.49,655.44 249.7,655.71 250.91,655.97 252.12,656.24 253.34,656.5 254.56,656.76 255.79,657.02 257.03,657.28 258.27,657.54 259.51,657.79 260.76,658.05 262.01,658.3 263.27,658.55 264.53,658.8 265.8,659.05 267.07,659.3 268.35,659.54 269.63,659.79 270.92,660.03 272.21,660.28 273.51,660.52 274.81,660.76 276.12,660.99 277.43,661.23 278.75,661.47 280.07,661.7 281.4,661.93 282.73,662.16 284.07,662.39 285.41,662.62 286.76,662.85 288.11,663.08 289.46,663.3 290.82,663.53 292.19,663.75 293.56,663.97 294.94,664.19 296.32,664.41 297.7,664.63 299.1,664.85 300.49,665.06 301.89,665.28 303.3,665.49 304.71,665.71 306.12,665.92 307.54,666.13 308.97,666.34 310.4,666.54 311.83,666.75 313.27,666.96 314.72,667.16 316.17,667.36 317.62,667.57 319.08,667.77 320.54,667.97 322.01,668.17 323.49,668.37 324.97,668.56 326.45,668.76 327.94,668.95 329.43,669.15 330.93,669.34 332.43,669.53 333.94,669.72 335.46,669.91 336.97,670.1 338.5,670.29 340.03,670.48 341.56,670.67 343.1,670.85 344.64,671.03 346.19,671.22 347.74,671.4 349.3,671.58 350.86,671.76 352.43,671.94 354,672.12 355.58,672.3 357.16,672.47 358.74,672.65 360.34,672.82 361.93,673 363.53,673.17 365.14,673.34 366.75,673.52 368.37,673.69 369.99,673.86 371.62,674.02 373.25,674.19 374.88,674.36 376.52,674.53 378.17,674.69 379.82,674.86 381.48,675.02 383.14,675.18 384.8,675.34 386.47,675.5 388.15,675.67 389.83,675.82 391.51,675.98 393.2,676.14 394.9,676.3 396.6,676.46 398.3,676.61 400.01,676.77 401.72,676.92 403.44,677.07 405.17,677.23 406.9,677.38 408.63,677.53 410.37,677.68 412.11,677.83 413.86,677.98 415.62,678.13 417.38,678.27 419.14,678.42 420.91,678.57 422.68,678.71 424.46,678.86 426.24,679 428.03,679.14 429.82,679.28 431.62,679.43 433.42,679.57 435.23,679.71 437.04,679.85 438.86,679.99 440.68,680.12 442.51,680.26 444.34,680.4 446.18,680.54 448.02,680.67 449.87,680.81 451.72,680.94 453.58,681.07 455.44,681.21 457.3,681.34 459.18,681.47 461.05,681.6 462.93,681.73 464.82,681.86 466.71,681.99 468.61,682.12 470.51,682.25 472.41,682.38 474.32,682.51 476.24,682.63 478.16,682.76 480.09,682.88 482.02,683.01 483.95,683.13 485.89,683.25 487.84,683.38 489.79,683.5 491.74,683.62 493.7,683.74" fill="none" stroke="#263f76" stroke-width="3.4" stroke-linejoin="round"/>
<line x1="89.6" y1="505.6" x2="89.6" y2="512" stroke="#000" stroke-width="2.2"/>
<line x1="87.5" y1="505.6" x2="91.7" y2="505.6" stroke="#000" stroke-width="2"/>
<line x1="87.5" y1="512" x2="91.7" y2="512" stroke="#000" stroke-width="2"/>
<line x1="96.5" y1="540" x2="96.5" y2="590" stroke="#000" stroke-width="2.2"/>
<line x1="94.4" y1="540" x2="98.6" y2="540" stroke="#000" stroke-width="2"/>
<line x1="94.4" y1="590" x2="98.6" y2="590" stroke="#000" stroke-width="2"/>
<line x1="169.4" y1="608.6" x2="169.4" y2="646" stroke="#000" stroke-width="2.2"/>
<line x1="167.3" y1="608.6" x2="171.5" y2="608.6" stroke="#000" stroke-width="2"/>
<line x1="167.3" y1="646" x2="171.5" y2="646" stroke="#000" stroke-width="2"/>
<rect x="82.85" y="514.05" width="9.9" height="11.9" fill="#fff" stroke="#960a34" stroke-width="2.1"/>
<rect x="83.55" y="535.05" width="9.9" height="11.9" fill="#fff" stroke="#960a34" stroke-width="2.1"/>
<rect x="86.45" y="552.05" width="9.9" height="11.9" fill="#fff" stroke="#960a34" stroke-width="2.1"/>
<rect x="91.15" y="573.65" width="9.9" height="11.9" fill="#fff" stroke="#960a34" stroke-width="2.1"/>
<rect x="123.55" y="626.35" width="9.9" height="11.9" fill="#fff" stroke="#960a34" stroke-width="2.1"/>
<rect x="164.45" y="646.95" width="9.9" height="11.9" fill="#fff" stroke="#960a34" stroke-width="2.1"/>
<rect x="488.25" y="682.55" width="9.9" height="11.9" fill="#fff" stroke="#960a34" stroke-width="2.1"/>
<ellipse cx="88" cy="488.4" rx="5.2" ry="5.9" fill="#2c4a85"/>
<ellipse cx="88.9" cy="514.7" rx="5.2" ry="5.9" fill="#2c4a85"/>
<ellipse cx="92.5" cy="530.5" rx="5.2" ry="5.9" fill="#2c4a85"/>
<ellipse cx="95.9" cy="557.8" rx="5.2" ry="5.9" fill="#2c4a85"/>
<ellipse cx="104.6" cy="556.3" rx="5.2" ry="5.9" fill="#2c4a85"/>
<ellipse cx="128.5" cy="609.8" rx="5.2" ry="5.9" fill="#2c4a85"/>
<ellipse cx="169.4" cy="631.7" rx="5.2" ry="5.9" fill="#2c4a85"/>
<ellipse cx="493.5" cy="685.8" rx="5.2" ry="5.9" fill="#2c4a85"/>
<rect x="408.5" y="474.75" width="10" height="12.1" fill="#fff" stroke="#960a34" stroke-width="2.1"/>
<ellipse cx="413.5" cy="503.7" rx="5.4" ry="5.6000000000000005" fill="#2c4a85"/>
<text id="t28" transform="translate(424.9,486.1) scale(1,1.15)" class="lg">FV8 0</text>
<path transform="translate(424.9,486.1) scale(1,1.15) translate(28.09,0) scale(0.007324,-0.007324)" d="M640,0L490,0L490,1098Q425,1038 319,979Q213,920 129,890L129,1057Q280,1124 393,1221Q506,1318 553,1409L640,1409Z" fill="#000" stroke="#000" stroke-width="16.4"/>
<text id="t29" transform="translate(424.9,508.7) scale(1,1.15)" class="lg">FVL8 0</text>
<path transform="translate(424.9,508.7) scale(1,1.15) translate(36.63,0) scale(0.007324,-0.007324)" d="M640,0L490,0L490,1098Q425,1038 319,979Q213,920 129,890L129,1057Q280,1124 393,1221Q506,1318 553,1409L640,1409Z" fill="#000" stroke="#000" stroke-width="16.4"/>
</svg>
</body></html>
